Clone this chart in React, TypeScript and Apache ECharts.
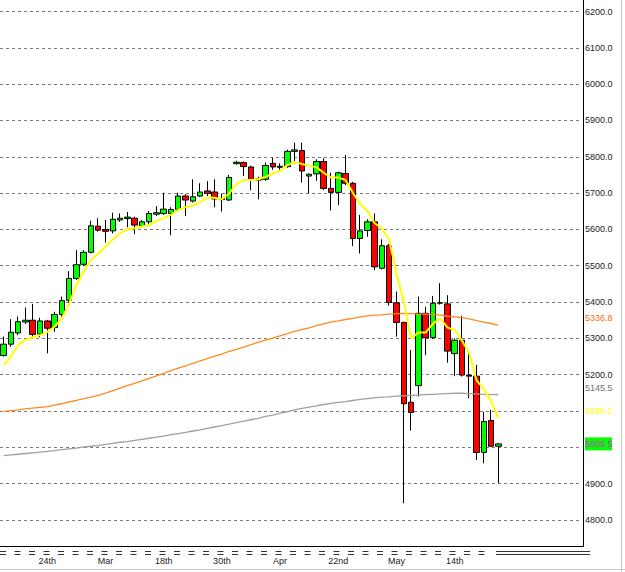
import React, { useEffect, useRef } from 'react';
import * as echarts from 'echarts';

// ---- data ----
const opens = [5253,5284,5315,5345,5350,5312,5348,5330,5366,5405,5465,5504,5537,5609,5600,5596,5626,5630,5631,5609,5621,5642,5644,5644,5655,5692,5678,5692,5706,5703,5685,5681,5781,5784,5772,5736,5738,5782,5771,5773,5815,5817,5747,5753,5787,5713,5702,5754,5727,5575,5597,5621,5493,5555,5398,5344,5124,5170,5369,5302,5397,5395,5258,5295,5199,5196,4986,5074,5003];
const highs = [5305,5353,5360,5385,5395,5357,5351,5373,5415,5485,5543,5543,5624,5631,5626,5646,5644,5648,5635,5626,5651,5664,5701,5661,5701,5697,5738,5727,5733,5738,5699,5750,5789,5787,5775,5745,5784,5797,5782,5820,5839,5839,5754,5793,5796,5756,5759,5805,5731,5640,5628,5644,5573,5560,5429,5346,5268,5415,5387,5417,5452,5419,5300,5362,5263,5227,5098,5103,5011];
const lows = [5250,5277,5309,5340,5305,5303,5259,5318,5360,5396,5461,5499,5534,5594,5564,5589,5621,5606,5587,5605,5615,5637,5640,5584,5651,5637,5674,5690,5692,5661,5649,5678,5779,5747,5708,5683,5734,5764,5764,5770,5782,5729,5699,5734,5709,5652,5667,5722,5554,5534,5580,5488,5490,5390,5305,4846,5046,5140,5254,5298,5393,5233,5196,5195,5135,4965,4956,5002,4901];
const closes = [5284,5317,5346,5350,5311,5348,5328,5366,5404,5465,5503,5537,5610,5598,5595,5628,5631,5634,5612,5621,5644,5646,5656,5655,5692,5681,5690,5703,5699,5684,5682,5743,5785,5773,5738,5739,5776,5772,5774,5815,5819,5761,5752,5787,5713,5702,5756,5727,5575,5596,5621,5497,5555,5399,5344,5120,5096,5369,5302,5397,5398,5265,5295,5199,5196,4986,5071,5003,5009.5];

const yellowMA = [5227,5250,5282,5296,5303,5309,5318,5332,5355,5396,5447,5484,5516,5534,5553,5573,5589,5601,5603,5608,5612,5623,5631,5640,5654,5661,5665,5676,5687,5687,5683,5699,5725,5736,5736,5738,5745,5754,5762,5777,5786,5780,5775,5771,5756,5743,5743,5736,5701,5670,5651,5617,5603,5571,5479,5401,5300,5316,5316,5340,5355,5330,5323,5294,5259,5185,5160,5128,5080.1];
const orangeMA = [5099,5101,5103,5106,5108,5110,5112,5116,5120,5125,5129,5134,5138,5143,5149,5156,5163,5170,5176,5183,5190,5197,5204,5211,5218,5224,5231,5238,5244,5251,5257,5264,5270,5276,5283,5289,5295,5301,5307,5313,5319,5324,5329,5335,5340,5345,5348,5352,5355,5359,5362,5364,5365,5367,5368,5369,5368,5367,5367,5366,5364,5361,5359,5357,5354,5349,5345,5341,5336.8];
const grayMA = [4977,4979,4981,4983,4985,4987,4989,4991,4994,4996,4998,5001,5003,5005,5008,5011,5014,5016,5019,5022,5025,5028,5031,5035,5038,5041,5045,5048,5052,5056,5060,5064,5068,5072,5076,5080,5085,5089,5094,5098,5103,5107,5111,5114,5118,5121,5124,5126,5129,5132,5134,5136,5138,5139,5141,5142,5143,5144,5145,5146,5147,5148,5149,5149,5148,5147,5146,5145,5145.5];

const xTickLabels = ['24th', 'Mar', '18th', '30th', 'Apr', '22nd', 'May', '14th'];
const xTickFirst = 6;
const xTickEvery = 8;
const slotCount = 80;
const yMin = 4700;
const yMax = 6300;
const yStep = 100;
const yTicksHidden = [4700, 6300, 5000, 5100];

const FONT = 'Liberation Sans';

export default function App() {
  const ref = useRef<HTMLDivElement>(null);

  useEffect(() => {
    const chart = echarts.init(ref.current!, null, { renderer: 'svg' });
    const categories = Array.from({ length: slotCount }, (_, i) => String(i));
    const isTick = (i: number) =>
      i >= xTickFirst && (i - xTickFirst) % xTickEvery === 0 && (i - xTickFirst) / xTickEvery < xTickLabels.length;
    const candleData = opens.map((o, i) => [o, closes[i], lows[i], highs[i]]);

    chart.setOption({
      animation: false,
      backgroundColor: '#ffffff',
      grid: { left: 0, right: 43, top: -24.8, bottom: 15.7, containLabel: false, outerBoundsMode: 'none' },
      xAxis: {
        type: 'category',
        data: categories,
        boundaryGap: true,
        axisLine: { show: false },
        axisTick: { show: false },
        splitLine: { show: false },
        axisLabel: {
          interval: (i: number) => isTick(i),
          formatter: (_v: string, i: number) => (isTick(i) ? xTickLabels[(i - xTickFirst) / xTickEvery] : ''),
          margin: 0,
          fontSize: 9,
          fontFamily: FONT,
          color: '#222',
        },
      },
      yAxis: {
        type: 'value',
        position: 'right',
        min: yMin,
        max: yMax,
        interval: yStep,
        axisLine: { show: false },
        axisTick: { show: false },
        splitLine: {
          show: true,
          showMinLine: false,
          showMaxLine: false,
          lineStyle: { color: '#7a7a7a', type: [3, 3], width: 1 },
        },
        axisLabel: {
          formatter: (v: number) => (yTicksHidden.includes(v) ? '' : v.toFixed(1)),
          margin: 3,
          fontSize: 9,
          fontFamily: FONT,
          color: '#222',
        },
      },
      series: [
        {
          type: 'candlestick',
          data: candleData,
          barWidth: 6,
          itemStyle: {
            color: '#00ff00',
            color0: '#ff0000',
            borderColor: '#000000',
            borderColor0: '#000000',
            borderWidth: 1,
          },
        },
        {
          type: 'line',
          data: grayMA,
          showSymbol: false,
          lineStyle: { color: '#a0a0a0', width: 1.3 },
          z: 3,
        },
        {
          type: 'line',
          data: orangeMA,
          showSymbol: false,
          lineStyle: { color: '#ff8a1f', width: 1.3 },
          z: 3,
        },
        {
          type: 'line',
          data: yellowMA,
          showSymbol: false,
          lineStyle: { color: '#ffff00', width: 2 },
          z: 4,
        },
      ],
    });

    const py = (v: number) => chart.convertToPixel({ yAxisIndex: 0 }, v) as number;
    const lastOf = (a: number[]) => a[a.length - 1];
    const lbl = (v: number, dy: number, fill: string) => ({
      type: 'text',
      z: 101,
      x: 585,
      y: py(v) + dy,
      style: { text: v.toFixed(1), fill, fontSize: 9, fontFamily: FONT, verticalAlign: 'middle', align: 'left' },
    });
    const closeY = py(lastOf(closes));
    const ln = (x1: number, y1: number, x2: number, y2: number, stroke: string, dash?: number[]) => ({
      type: 'line',
      z: 100,
      shape: { x1, y1, x2, y2 },
      style: { stroke, lineWidth: 1, lineDash: dash },
    });

    chart.setOption({
      graphic: {
        elements: [
          ln(0, 546.5, 584, 546.5, '#000000'),
          ln(583.5, 0, 583.5, 546.5, '#000000'),
          ln(0, 551.5, 490, 551.5, '#333333', [6, 8.5]),
          ln(0, 554.5, 490, 554.5, '#333333', [6, 8.5]),
          ln(496, 551.5, 590, 551.5, '#333333'),
          ln(496, 554.5, 590, 554.5, '#333333'),
          ln(0, 569.5, 625, 569.5, '#c8c8c8'),
          ln(621.5, 0, 621.5, 572, '#c8c8c8'),
          lbl(lastOf(orangeMA), -7, '#ff6a00'),
          lbl(lastOf(grayMA), -6.5, '#707070'),
          lbl(lastOf(yellowMA), -7, '#ffff00'),
          {
            type: 'rect',
            z: 100,
            shape: { x: 585, y: closeY - 6.5, width: 27, height: 13 },
            style: { fill: '#00ff00' },
          },
          lbl(lastOf(closes), 0, '#cc33cc'),
        ],
      },
    });

    return () => chart.dispose();
  }, []);

  return (
    <div
      ref={ref}
      style={{ position: 'fixed', left: 0, top: 0, width: 625, height: 572, background: '#fff' }}
    />
  );
}
